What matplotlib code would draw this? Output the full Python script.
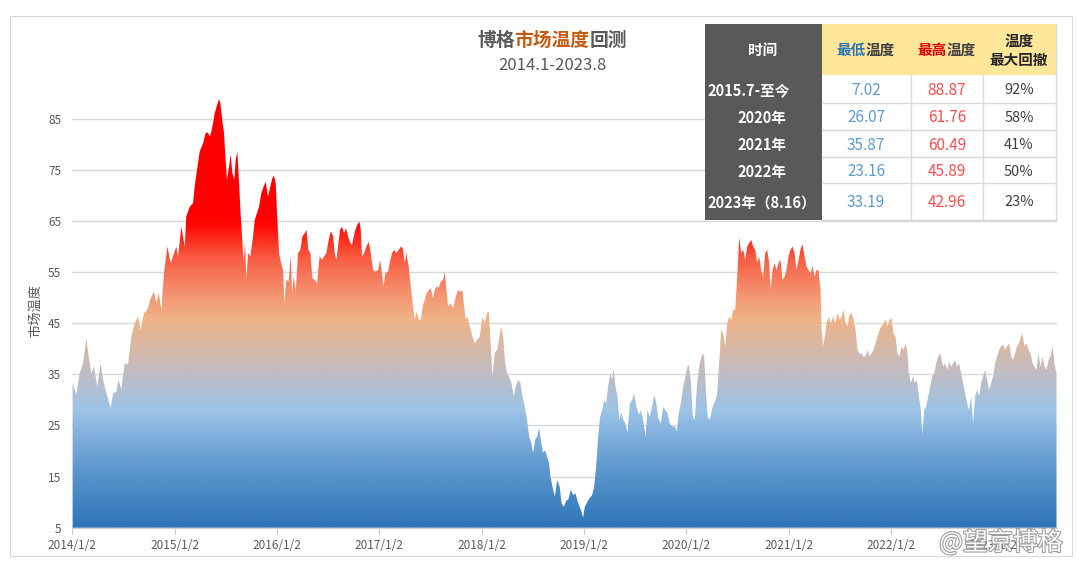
import numpy as np
import matplotlib.pyplot as plt
from matplotlib.colors import LinearSegmentedColormap
from matplotlib.patches import Rectangle
import matplotlib.patheffects as pe

plt.rcParams['font.family'] = ['Noto Sans CJK SC', 'DejaVu Sans']

# 日期(年份小数) 与 市场温度
years = [
    2014.003, 2014.039, 2014.072, 2014.105, 2014.137, 2014.160, 2014.186, 2014.212, 2014.245, 2014.277,
    2014.300, 2014.333, 2014.375, 2014.398, 2014.430, 2014.453, 2014.479, 2014.512, 2014.544, 2014.577,
    2014.610, 2014.642, 2014.668, 2014.701, 2014.733, 2014.766, 2014.799, 2014.821, 2014.845, 2014.870,
    2014.896, 2014.929, 2014.962, 2014.994, 2015.017, 2015.033, 2015.066, 2015.099, 2015.114, 2015.148,
    2015.180, 2015.196, 2015.219, 2015.245, 2015.278, 2015.304, 2015.327, 2015.343, 2015.359, 2015.376,
    2015.392, 2015.415, 2015.434, 2015.447, 2015.467, 2015.483, 2015.496, 2015.512, 2015.532, 2015.548,
    2015.564, 2015.584, 2015.597, 2015.613, 2015.630, 2015.643, 2015.659, 2015.675, 2015.688, 2015.701,
    2015.718, 2015.740, 2015.767, 2015.783, 2015.799, 2015.825, 2015.848, 2015.871, 2015.890, 2015.913,
    2015.936, 2015.955, 2015.972, 2015.988, 2016.001, 2016.021, 2016.040, 2016.060, 2016.073, 2016.092,
    2016.115, 2016.135, 2016.148, 2016.164, 2016.184, 2016.206, 2016.229, 2016.249, 2016.272, 2016.288,
    2016.307, 2016.327, 2016.346, 2016.369, 2016.392,
    2016.402, 2016.418, 2016.441, 2016.461, 2016.483, 2016.506, 2016.526, 2016.549, 2016.565, 2016.581,
    2016.597, 2016.617, 2016.637, 2016.656, 2016.676, 2016.695, 2016.718, 2016.734, 2016.751, 2016.767,
    2016.786, 2016.806, 2016.819, 2016.832, 2016.852, 2016.874, 2016.897, 2016.917, 2016.940, 2016.962,
    2016.989, 2017.008, 2017.028, 2017.041, 2017.060, 2017.086, 2017.106, 2017.125, 2017.145, 2017.168,
    2017.191, 2017.210, 2017.230, 2017.249, 2017.265, 2017.288, 2017.308, 2017.327, 2017.347, 2017.366,
    2017.386, 2017.406, 2017.425, 2017.445, 2017.464, 2017.484, 2017.503, 2017.526, 2017.542, 2017.562,
    2017.582, 2017.601, 2017.624,
    2017.640, 2017.657, 2017.673, 2017.696, 2017.722, 2017.748, 2017.771, 2017.793, 2017.813, 2017.826,
    2017.846, 2017.862, 2017.885, 2017.911, 2017.934, 2017.956, 2017.982, 2018.008, 2018.031, 2018.054,
    2018.070, 2018.087, 2018.106, 2018.129, 2018.152, 2018.171, 2018.191, 2018.211, 2018.230, 2018.250,
    2018.269, 2018.292, 2018.315, 2018.334, 2018.357, 2018.380, 2018.400, 2018.422, 2018.445, 2018.465,
    2018.487, 2018.504, 2018.523, 2018.543, 2018.562, 2018.585, 2018.601, 2018.621, 2018.641, 2018.660,
    2018.673, 2018.693, 2018.716, 2018.738, 2018.764, 2018.781, 2018.804, 2018.830,
    2018.846, 2018.872, 2018.895, 2018.918, 2018.944, 2018.970, 2018.993, 2019.009, 2019.035, 2019.058,
    2019.081, 2019.100, 2019.120, 2019.139, 2019.159, 2019.178, 2019.198, 2019.217, 2019.237, 2019.257,
    2019.276, 2019.289, 2019.309, 2019.328, 2019.348, 2019.361, 2019.384, 2019.406, 2019.426, 2019.449,
    2019.472, 2019.491, 2019.514, 2019.537, 2019.556, 2019.579, 2019.602, 2019.621, 2019.644, 2019.667,
    2019.687, 2019.709, 2019.726, 2019.752, 2019.775, 2019.797, 2019.817, 2019.840, 2019.863, 2019.889,
    2019.908, 2019.928, 2019.947, 2019.970, 2019.993, 2020.012, 2020.025, 2020.045, 2020.065, 2020.084,
    2020.107, 2020.133, 2020.159, 2020.176, 2020.192, 2020.211, 2020.231, 2020.250, 2020.270, 2020.290,
    2020.303, 2020.322, 2020.342, 2020.361, 2020.381, 2020.400, 2020.420, 2020.443, 2020.459, 2020.479,
    2020.498, 2020.518, 2020.537, 2020.557, 2020.576, 2020.596, 2020.615, 2020.635, 2020.655, 2020.674,
    2020.694, 2020.713, 2020.733, 2020.752, 2020.772, 2020.791, 2020.811, 2020.824, 2020.844, 2020.863,
    2020.883, 2020.902, 2020.922, 2020.941, 2020.961, 2020.980, 2021.000, 2021.019, 2021.039, 2021.059,
    2021.078, 2021.098, 2021.117, 2021.137, 2021.156, 2021.176, 2021.195, 2021.215, 2021.235, 2021.254,
    2021.274, 2021.293, 2021.313,
    2021.323, 2021.339, 2021.355, 2021.371, 2021.394, 2021.414, 2021.437, 2021.459, 2021.479, 2021.499,
    2021.518, 2021.538, 2021.557, 2021.577, 2021.596, 2021.616, 2021.635, 2021.655, 2021.674, 2021.694,
    2021.714, 2021.733, 2021.753, 2021.772, 2021.792, 2021.811, 2021.831, 2021.850, 2021.870, 2021.890,
    2021.909, 2021.929, 2021.948, 2021.968, 2021.987, 2022.007, 2022.026, 2022.046, 2022.065, 2022.085,
    2022.105, 2022.124, 2022.144, 2022.163, 2022.176, 2022.196, 2022.215, 2022.235, 2022.254, 2022.274,
    2022.294, 2022.307, 2022.326, 2022.346, 2022.365, 2022.385, 2022.404, 2022.424, 2022.443, 2022.463,
    2022.483,
    2022.511, 2022.531, 2022.550, 2022.570, 2022.589, 2022.609, 2022.628, 2022.648, 2022.667, 2022.687,
    2022.707, 2022.726, 2022.746, 2022.765, 2022.785, 2022.804, 2022.824, 2022.843, 2022.863, 2022.882,
    2022.902, 2022.922, 2022.941, 2022.961, 2022.980, 2023.000, 2023.019, 2023.039, 2023.058, 2023.078,
    2023.098, 2023.117, 2023.137, 2023.156, 2023.176, 2023.195, 2023.215, 2023.234, 2023.254, 2023.273,
    2023.286, 2023.306, 2023.326, 2023.345, 2023.365, 2023.384, 2023.404, 2023.423, 2023.443, 2023.463,
    2023.482, 2023.502, 2023.521, 2023.541, 2023.560, 2023.580, 2023.599, 2023.619,
]
temperature = [
    33.3, 31.0, 35.2, 37.2, 42.1, 38.5, 35.2, 36.5, 32.6, 37.2,
    34.0, 31.3, 28.4, 31.3, 31.6, 34.0, 32.0, 37.2, 36.9, 42.4,
    45.0, 46.3, 43.7, 47.0, 47.6, 49.9, 51.2, 48.9, 50.9, 47.6,
    54.8, 60.0, 56.8, 58.7, 60.0, 58.0, 63.9, 60.0, 65.9, 67.8,
    68.5, 71.8, 75.0, 78.6, 80.2, 82.3, 82.3, 81.5, 82.5, 84.2,
    86.1, 87.7, 88.87, 88.1, 84.5, 82.2, 77.6, 73.1, 75.7, 78.0,
    74.4, 73.1, 77.0, 78.6, 72.4, 67.2, 62.0, 56.8, 60.7, 53.5,
    58.7, 58.1, 62.0, 65.2, 66.2, 67.8, 70.5, 71.8, 72.7, 69.8,
    71.8, 73.4, 73.9, 72.4, 66.5, 58.7, 56.8, 55.4, 48.9, 53.5,
    53.2, 58.4, 50.9, 54.1, 51.5, 58.7, 59.4, 62.0, 62.6, 63.3,
    59.4, 58.7, 53.8, 53.5, 52.8,
    55.1, 58.1, 57.4, 58.1, 58.7, 61.3, 63.0, 62.0, 58.7, 57.4,
    60.0, 63.3, 63.9, 62.6, 63.6, 62.0, 60.7, 60.3, 62.0, 63.3,
    64.3, 64.9, 63.3, 58.1, 58.7, 60.0, 61.0, 58.7, 55.4, 55.1,
    55.4, 57.4, 54.5, 52.2, 54.8, 55.1, 57.1, 58.7, 59.4, 58.7,
    59.4, 60.0, 59.7, 56.8, 58.7, 56.1, 52.2, 48.9, 45.7, 47.3,
    45.7, 45.7, 48.3, 49.6, 50.9, 51.5, 51.9, 49.9, 51.5, 52.2,
    51.9, 53.2, 53.5,
    55.1, 51.5, 48.3, 48.9, 47.9, 50.2, 51.5, 51.2, 51.5, 48.9,
    45.7, 46.3, 44.4, 42.4, 41.1, 41.8, 42.4, 46.3, 45.0, 47.0,
    47.3, 41.8, 34.6, 39.2, 39.8, 41.8, 44.4, 42.4, 37.2, 35.2,
    34.6, 33.3, 30.7, 32.6, 33.9, 33.3, 30.7, 28.7, 26.1, 22.8,
    21.5, 19.6, 22.2, 22.8, 24.5, 21.5, 19.6, 20.2, 18.9, 17.6,
    15.0, 13.0, 11.1, 14.3, 13.0, 9.8, 9.1, 10.4,
    10.4, 12.4, 11.4, 11.7, 9.8, 8.5, 7.02, 9.1, 10.1, 10.8,
    11.4, 13.0, 17.0, 22.8, 26.7, 28.0, 30.0, 29.3, 32.6, 35.2,
    33.9, 36.2, 32.6, 30.7, 25.8, 27.7, 26.1, 25.4, 23.5, 29.3,
    30.0, 31.3, 28.7, 27.1, 28.0, 26.1, 22.8, 28.0, 26.7, 28.7,
    31.0, 29.3, 26.4, 25.4, 28.7, 28.0, 27.4, 25.4, 24.8, 24.8,
    23.8, 27.4, 29.3, 32.6, 34.6, 36.5, 36.9, 33.9, 26.7, 26.1,
    33.3, 37.2, 39.1, 38.5, 32.0, 26.5, 26.07, 28.0, 29.3, 30.0,
    31.3, 37.2, 43.7, 43.0, 40.5, 45.0, 46.3, 45.7, 47.6, 47.6,
    54.1, 61.76, 58.7, 59.4, 57.4, 60.0, 60.7, 61.3, 60.0, 59.4,
    56.8, 58.1, 55.4, 54.1, 58.7, 59.4, 56.8, 51.5, 55.4, 56.8,
    55.4, 56.8, 57.4, 53.5, 54.1, 55.4, 58.1, 59.4, 60.0, 58.7,
    55.4, 57.4, 59.4, 60.49, 58.1, 56.1, 55.4, 54.8, 56.1, 54.1,
    55.4, 55.4, 51.5,
    43.7, 40.5, 42.4, 45.0, 46.3, 45.0, 46.3, 45.0, 47.0, 45.7,
    46.3, 47.6, 45.0, 44.4, 46.7, 47.0, 45.7, 43.7, 39.8, 39.1,
    39.1, 38.5, 38.5, 39.8, 38.5, 39.1, 39.8, 41.1, 42.4, 43.7,
    44.4, 45.0, 45.7, 44.4, 45.7, 45.89, 43.0, 42.4, 39.1, 38.5,
    40.5, 39.8, 41.1, 39.1, 35.2, 33.3, 34.6, 33.3, 33.9, 30.7,
    28.0, 23.16, 28.0, 28.7, 30.7, 32.6, 34.6, 35.2, 37.2, 38.5,
    39.1,
    36.5, 37.2, 35.9, 37.5, 36.5, 37.2, 37.8, 36.5, 37.2, 35.2,
    33.3, 31.3, 29.3, 28.0, 30.7, 25.4, 30.7, 32.0, 30.7, 33.3,
    34.6, 35.9, 33.9, 32.0, 33.3, 34.6, 37.2, 38.5, 39.8, 40.5,
    40.8, 39.8, 40.5, 41.1, 38.5, 37.8, 39.1, 40.5, 41.1, 42.4,
    42.96, 40.5, 41.1, 39.8, 39.1, 37.2, 36.5, 35.9, 39.1, 36.5,
    38.5, 36.5, 35.9, 37.8, 38.5, 40.5, 37.2, 35.2,
]

year_ticks = list(range(2014, 2024))
year_labels = [f"{y}/1/2" for y in year_ticks]
temp_ticks = [5, 15, 25, 35, 45, 55, 65, 75, 85]

# 表格
periods = ["2015.7-至今", "2020年", "2021年", "2022年", "2023年（8.16）"]
low_temp = ["7.02", "26.07", "35.87", "23.16", "33.19"]
high_temp = ["88.87", "61.76", "60.49", "45.89", "42.96"]
max_drawdown = ["92%", "58%", "41%", "50%", "23%"]

W, H = 1076, 566
fig = plt.figure(figsize=(W / 100, H / 100), dpi=100)
fig.patch.set_facecolor("white")

ax = fig.add_axes([72.3 / W, 1 - 527.7 / H, 984.2 / W, 434.4 / H])

# 渐变色(按温度高低)
stops = [(5, "#2E75B6"), (16, "#5B96CE"), (28, "#9DC3E6"), (36, "#C4BCBE"),
         (46, "#F0B386"), (52, "#F58A6A"), (58, "#F95A40"), (64, "#FF0A05"),
         (66, "#FF0000"), (90, "#FF0000")]
cmap = LinearSegmentedColormap.from_list(
    "temp", [((v - 5) / 85, c) for v, c in stops])

poly = ax.fill_between(years, temperature, 5, facecolor="none", lw=0)
grad = np.linspace(5, 90, 500).reshape(-1, 1)
im = ax.imshow(grad, cmap=cmap, vmin=5, vmax=90, origin="lower", aspect="auto",
               extent=[years[0] - 0.01, years[-1], 5, 90], zorder=2,
               interpolation="bilinear")
im.set_clip_path(poly.get_paths()[0], ax.transData)

ax.set_xlim(2014.0, years[-1])
ax.set_ylim(5, 90)
ax.set_yticks(temp_ticks)
ax.set_xticks(year_ticks)
ax.set_xticklabels(year_labels)
ax.yaxis.grid(True, color="#D9D9D9", lw=1.0)
ax.set_axisbelow(True)
for s in ["top", "right", "left"]:
    ax.spines[s].set_visible(False)
ax.spines["bottom"].set_color("#D0D0D0")
ax.spines["bottom"].set_zorder(3)
ax.tick_params(axis="y", length=0, pad=8, labelsize=8.5, labelcolor="#595959")
ax.tick_params(axis="x", length=4, color="#C8C8C8", pad=4, labelsize=8.5,
               labelcolor="#595959")
ax.set_ylabel("市场温度", fontsize=9.5, color="#595959")
ax.yaxis.set_label_coords(-(72.3 - 42) / 984.2, 0.5)

# 覆盖层: 标题 表格 (像素坐标)
ov = fig.add_axes([0, 0, 1, 1], zorder=5)
ov.set_xlim(0, W)
ov.set_ylim(H, 0)
ov.axis("off")
renderer = fig.canvas.get_renderer()


def colored_text(x, y, parts, size):
    texts = [ov.text(0, y, s, color=c, fontweight=w, fontsize=size,
                     ha="left", va="center") for s, c, w in parts]
    widths = [t.get_window_extent(renderer).width for t in texts]
    left = x - sum(widths) / 2
    for t, w in zip(texts, widths):
        t.set_x(left)
        left += w


ov.add_patch(Rectangle((9.5, 15.5), 1062, 540, fill=False, ec="#D9D9D9", lw=0.8))

colored_text(552, 40, [("博格", "#595959", "bold"), ("市场温度", "#C55A11", "bold"),
                       ("回测", "#595959", "bold")], 13.5)
ov.text(552, 66, "2014.1-2023.8", ha="center", va="center", fontsize=12,
        color="#595959")

# 表格
tx0, tx1, tx2, tx3, tx4 = 705, 822, 910.7, 983.3, 1055.5
ty_top, ty_head = 24, 75
row_edges = [75, 103.3, 130, 156.7, 183.3, 220]
ov.add_patch(Rectangle((tx0, ty_top), tx1 - tx0, row_edges[-1] - ty_top,
                       fc="#595959", ec="none"))
ov.add_patch(Rectangle((tx1, ty_top), tx4 - tx1, ty_head - ty_top,
                       fc="#FFE699", ec="none"))
ov.add_patch(Rectangle((tx1, ty_head), tx4 - tx1, row_edges[-1] - ty_head,
                       fc="white", ec="none"))
for yy in row_edges[1:]:
    ov.plot([tx1, tx4], [yy, yy], color="#D9D9D9", lw=1)
for xx in [tx2, tx3]:
    ov.plot([xx, xx], [ty_head, row_edges[-1]], color="#D9D9D9", lw=1)
ov.plot([tx4, tx4], [ty_top, row_edges[-1]], color="#D9D9D9", lw=1)

c1, c2, c3, c4 = 763, 866, 947, 1019
ov.text(c1, 50, "时间", color="white", fontweight="bold", fontsize=10.5,
        ha="center", va="center")
colored_text(c2, 50, [("最低", "#2E75B6", "bold"), ("温度", "#404040", "bold")], 10.5)
colored_text(c3, 50, [("最高", "#E00000", "bold"), ("温度", "#404040", "bold")], 10.5)
ov.text(c4, 41, "温度", color="#262626", fontweight="bold", fontsize=10.5,
        ha="center", va="center")
ov.text(c4, 60, "最大回撤", color="#262626", fontweight="bold", fontsize=10.5,
        ha="center", va="center")

row_y = [90.5, 118, 145, 171.5, 202.5]
for i, yy in enumerate(row_y):
    xc = 749 if i == 0 else 762
    ov.text(xc, yy, periods[i], color="white", fontweight="bold", fontsize=10.5,
            ha="center", va="center")
    ov.text(c2, yy, low_temp[i], color="#5B9BD5", fontsize=11, ha="center", va="center")
    ov.text(c3, yy, high_temp[i], color="#FF4B4B", fontsize=11, ha="center", va="center")
    ov.text(c4, yy, max_drawdown[i], color="#404040", fontsize=10.5, ha="center",
            va="center")

# 水印
ov.text(1001, 543, "@望京博格", color="white", fontsize=18, ha="center", va="center",
        alpha=0.95, path_effects=[pe.withStroke(linewidth=1.6, foreground="#9A9A9A")])

fig.savefig("out.png", dpi=100)
